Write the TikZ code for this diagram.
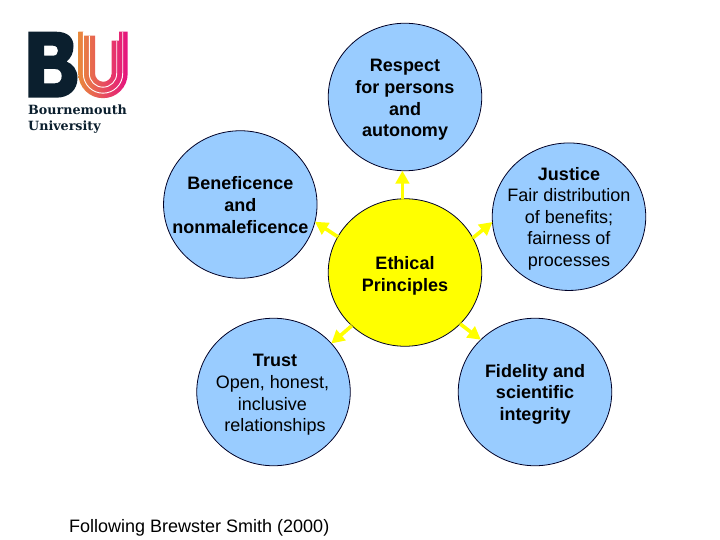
\documentclass[tikz,border=0pt]{standalone}
\usepackage{fontspec}
\setmainfont{Liberation Sans}
\newfontfamily\logofont{DejaVu Serif}
\usetikzlibrary{shapes.geometric,arrows.meta}
\definecolor{bubble}{HTML}{99CCFF}
\definecolor{sunfill}{HTML}{FFFF00}
\definecolor{bunavy}{HTML}{0B1F2E}
\definecolor{buorange}{HTML}{E98A3C}
\definecolor{bupink}{HTML}{E5127F}
\tikzset{
  x=1pt,y=-1pt,
  disc/.style={ellipse,draw=black!85!blue,line width=0.8pt,inner sep=0pt,outer sep=0pt,
    minimum width=153.5pt,minimum height=147.5pt},
  bluedisc/.style={disc,fill=bubble},
  yellowdisc/.style={disc,fill=sunfill},
  disctext/.style={inner sep=0pt,align=center,text=black,font=\fontsize{18}{21.6}\selectfont},
  spoke/.style={draw=sunfill,line width=3.6pt,
    -{Triangle[length=13pt,width=13.5pt,fill=sunfill,color=sunfill]}},
  stripe/.style={draw=white,line width=0.9pt},
}
\begin{document}
\begin{tikzpicture}
\useasboundingbox[fill=white] (0,0) rectangle (720,540);

% logo
\path[fill=bunavy,even odd rule]
  (28.3,31.7) -- (56,31.7) .. controls (68,31.7) and (73.5,38) .. (73.5,46)
  .. controls (73.5,53) and (71,58) .. (66.5,61.5)
  .. controls (73,64) and (77.5,70) .. (77.5,78)
  .. controls (77.5,90) and (69,97.7) .. (56,97.7) -- (28.3,97.7) -- cycle
  (44,45.7) -- (53,45.7) .. controls (56.5,45.7) and (58,48) .. (58,50.7)
  .. controls (58,53.4) and (56.5,55.7) .. (53,55.7) -- (44,55.7) -- cycle
  (44,69) -- (55,69) .. controls (59.5,69) and (61.7,72) .. (61.7,76)
  .. controls (61.7,80.5) and (59.5,83.3) .. (55,83.3) -- (44,83.3) -- cycle;
\path[left color=buorange,right color=bupink]
  (78.3,31.7) -- (83.3,31.7) -- (83.3,35.7) -- (95,35.7) -- (95,73.5)
  arc[start angle=180,end angle=0,radius=8.3]
  -- (111.6,40.7) -- (119,40.7) -- (119,31.7) -- (127.7,31.7) -- (127.7,73.5)
  arc[start angle=0,end angle=180,radius=24.7] -- cycle;
\draw[stripe] (83.3,32) -- (83.3,73.5) arc[start angle=180,end angle=0,radius=19.7] -- (122.7,32);
\draw[stripe] (89.3,36) -- (89.3,73.5) arc[start angle=180,end angle=0,radius=13.7] -- (116.7,41);
\node (logotext) [anchor=north west,inner sep=0pt,align=left,text=bunavy,
  font=\logofont\bfseries\fontsize{12.7}{16}\selectfont] at (28,105) {Bournemouth\\University};

% discs
\node (resp) [bluedisc] at (405,97) {};
\node (bene) [bluedisc] at (240.3,204.5) {};
\node (just) [bluedisc] at (569,216.7) {};
\node (eth) [yellowdisc] at (405,272.5) {};
\node (trust) [bluedisc] at (273.5,392) {};
\node (fid) [bluedisc] at (535,392) {};

% spokes
\draw[spoke] (eth.92) -- (resp.268);
\draw[spoke] (eth.152.5) -- (bene.347);
\draw[spoke] (eth.27.8) -- (just.184.4);
\draw[spoke] (eth.225.5) -- (trust.40.5);
\draw[spoke] (eth.317.8) -- (fid.136);

% texts
\node (resptext) [disctext] at (405,100) {\textbf{Respect}\\\textbf{for persons}\\\textbf{and~}\\\textbf{autonomy}};
\node (benetext) [disctext] at (240.3,205) {\textbf{Beneficence}\\\textbf{and}\\\textbf{nonmaleficence}};
\node (justtext) [disctext] at (569,218.7) {\textbf{Justice}\\Fair distribution\\of benefits;~\\fairness of\\processes};
\node (ethtext) [disctext] at (405,276) {\textbf{Ethical}\\\textbf{Principles}};
\node (trusttext) [disctext] at (272.5,395) {\hspace*{5pt}\textbf{Trust}\\Open, honest,~\\inclusive~\\~relationships};
\node (fidtext) [disctext] at (535,394) {\textbf{Fidelity and}\\\textbf{scientific}\\\textbf{integrity}};

\node (credit) [anchor=base west,inner sep=0pt,font=\fontsize{18}{21.6}\selectfont] at (69,532) {Following Brewster Smith (2000)};
\end{tikzpicture}
\end{document}
